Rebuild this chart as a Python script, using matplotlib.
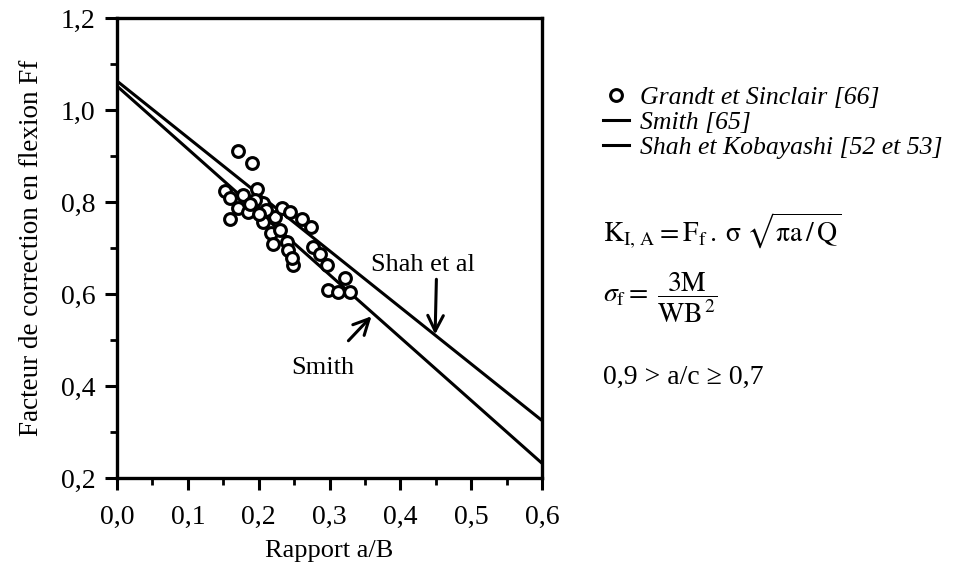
import matplotlib
matplotlib.use("Agg")
import matplotlib.pyplot as plt
from matplotlib.ticker import MultipleLocator, FuncFormatter

plt.rcParams['font.family'] = ['Liberation Serif', 'DejaVu Serif']
plt.rcParams['mathtext.fontset'] = 'stix'

gs_x = [0.171, 0.190, 0.153, 0.160, 0.197, 0.178, 0.1595, 0.171, 0.185, 0.2066,
        0.195, 0.223, 0.211, 0.2325, 0.244, 0.261, 0.2735, 0.2066, 0.218, 0.230,
        0.220, 0.2395, 0.242, 0.249, 0.2466, 0.277, 0.2866, 0.296, 0.298, 0.3125,
        0.322, 0.329, 0.188, 0.200]
gs_y = [0.911, 0.884, 0.823, 0.808, 0.828, 0.815, 0.763, 0.786, 0.779, 0.797,
        0.804, 0.768, 0.783, 0.788, 0.779, 0.762, 0.745, 0.757, 0.732, 0.739,
        0.709, 0.714, 0.696, 0.663, 0.678, 0.703, 0.688, 0.663, 0.609, 0.605,
        0.634, 0.605, 0.795, 0.775]

# straight-line solutions
line_x = [0.0, 0.6]
smith_y = [1.052, 0.232]
shah_y = [1.063, 0.325]

fig = plt.figure(figsize=(9.72, 5.73), dpi=100)
ax = fig.add_axes([117/972, 1 - 478/573, 425/972, 460/573])

ax.plot(gs_x, gs_y, 'o', ms=8.5, mfc='white', mec='black', mew=2.2, zorder=3,
        label='Grandt et Sinclair [66]')
ax.plot(line_x, smith_y, color='black', lw=2.2, label='Smith [65]')
ax.plot(line_x, shah_y, color='black', lw=2.2, label='Shah et Kobayashi [52 et 53]')

ax.set_xlim(0, 0.6)
ax.set_ylim(0.2, 1.2)
ax.xaxis.set_major_locator(MultipleLocator(0.1))
ax.xaxis.set_minor_locator(MultipleLocator(0.05))
ax.yaxis.set_major_locator(MultipleLocator(0.2))
ax.yaxis.set_minor_locator(MultipleLocator(0.1))
comma = FuncFormatter(lambda v, p: f'{v:.1f}'.replace('.', ','))
ax.xaxis.set_major_formatter(comma)
ax.yaxis.set_major_formatter(comma)
ax.tick_params(which='major', direction='out', length=8.5, width=2.2, labelsize=20, pad=7)
ax.tick_params(axis='x', which='major', pad=11)
ax.tick_params(which='minor', direction='out', length=5, width=2)
for s in ax.spines.values():
    s.set_linewidth(2.4)

ax.set_xlabel('Rapport a/B', fontsize=19, labelpad=7)
ax.set_ylabel('Facteur de correction en flexion Ff', fontsize=19.5, labelpad=12)

# annotations
ax.text(0.432, 0.664, 'Shah et al', fontsize=19, ha='center', va='center')
ax.annotate('', xy=(0.449, 0.506), xytext=(0.451, 0.638),
            arrowprops=dict(arrowstyle='->', lw=2.2, mutation_scale=28, color='black'))
ax.text(0.29, 0.44, 'Smith', fontsize=19, ha='center', va='center')
ax.annotate('', xy=(0.362, 0.556), xytext=(0.324, 0.494),
            arrowprops=dict(arrowstyle='->', lw=2.2, mutation_scale=28, color='black'))

fig.legend(loc='upper left', bbox_to_anchor=(590/972, 1 - 73/573), frameon=False,
           borderpad=0, handlelength=1.0, handletextpad=0.45, labelspacing=0.08,
           prop={'family': 'Liberation Serif', 'style': 'italic', 'size': 18.5})

fig.text(603/972, 1 - 231/573, r'$\mathrm{K_{I,\,A} = F_f\,.\;\sigma\;\sqrt{\pi a\,/\,Q}}$',
         fontsize=20, va='center', ha='left')
fig.text(603/972, 1 - 298/573, r'$\sigma_\mathrm{f} = \;\dfrac{3\mathrm{M}}{\mathrm{WB}^{\,2}}$',
         fontsize=20, va='center', ha='left')
fig.text(603/972, 1 - 377/573, '0,9 > a/c ≥ 0,7', fontsize=20, va='center', ha='left')

fig.savefig('out.png', dpi=100)
